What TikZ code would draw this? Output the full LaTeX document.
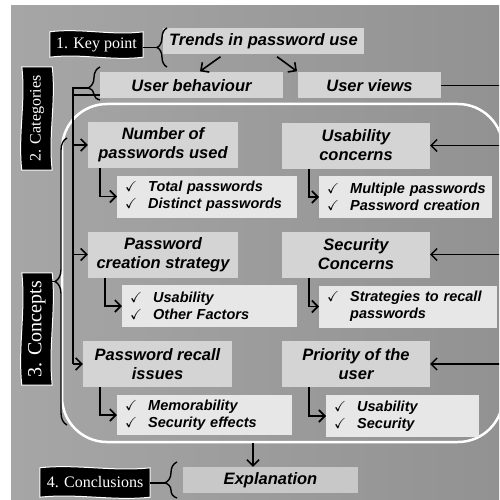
\documentclass[tikz,border=0pt]{standalone}
\usepackage{amssymb}
\usepackage{fontspec}
\setsansfont{Liberation Sans}
\newfontfamily\flagfont{Liberation Serif}
\usetikzlibrary{calc,arrows.meta,decorations.pathreplacing}

\definecolor{bgleft}{RGB}{166,166,166}
\definecolor{bgright}{RGB}{146,146,146}
\definecolor{boxgray}{RGB}{212,212,212}
\definecolor{listgray}{RGB}{231,231,231}
\definecolor{explgray}{RGB}{200,200,200}

\pgfdeclarelayer{back}
\pgfdeclarelayer{flags}
\pgfsetlayers{back,flags,main}

\newcommand{\chk}[1]{\mbox{\makebox[23pt][l]{$\checkmark$}#1}}
\newcommand{\wavyflag}[1]{%
  \fill[black,draw=white,line width=1pt] (#1.north west)
    .. controls ($(#1.north west)!0.33!(#1.north east)!4pt!90:(#1.north east)$)
    and ($(#1.north west)!0.66!(#1.north east)!-4pt!90:(#1.north east)$) .. (#1.north east)
    -- (#1.south east)
    .. controls ($(#1.south east)!0.33!(#1.south west)!4pt!90:(#1.south west)$)
    and ($(#1.south east)!0.66!(#1.south west)!-4pt!90:(#1.south west)$) .. (#1.south west)
    -- cycle;}

\begin{document}
\begin{tikzpicture}[x=1pt,y=-1pt,
    mainbox/.style={fill=boxgray, minimum height=46pt, align=center,
      font=\fontsize{16.5}{19}\selectfont\sffamily\bfseries\itshape},
    topbox/.style={mainbox, minimum height=26pt},
    listbox/.style={fill=listgray, anchor=west, align=left, inner xsep=8pt,
      minimum height=42pt, font=\fontsize{14.5}{17}\selectfont\sffamily\bfseries\itshape},
    flag/.style={text=white, inner sep=0pt, font=\flagfont\fontsize{16}{18}\selectfont},
    link/.style={line width=1.6pt},
    arr/.style={link, -{Straight Barb[length=6pt,width=12pt]}},
    cbrace/.style={line width=1.4pt, decorate, decoration={brace, amplitude=#1}},
    cbrace/.default=8pt]
  \useasboundingbox (0,0) rectangle (499,500);
  \begin{pgfonlayer}{back}
    \fill[white] (0,0) rectangle (499,500);
    \shade[left color=bgleft, right color=bgright] (11,6) rectangle (499,500);
  \end{pgfonlayer}
  \begin{scope}
  \clip (0,0) rectangle (499,500);
  \node[draw=white, line width=2.5pt, rounded corners=45pt, minimum width=441pt,
    minimum height=338pt] (ring) at (282.5,273) {};

  % top level
  \node[topbox, minimum width=201pt] (trends) at (263.5,41.5) {Trends in password use};
  \node[topbox, minimum width=183pt] (behav) at (191.5,85.5) {User behaviour};
  \node[topbox, minimum width=143pt] (views) at (369.5,85.5) {User views};

  % concepts
  \node[mainbox, minimum width=150pt] (num) at (163,145) {Number of\\passwords used};
  \node[mainbox, minimum width=150pt] (create) at (163,254.5) {Password\\creation strategy};
  \node[mainbox, minimum width=149pt] (recall) at (157.5,364) {Password recall\\issues};
  \node[mainbox, minimum width=148pt] (usab) at (356,145.5) {Usability\\concerns};
  \node[mainbox, minimum width=148pt] (secur) at (356,254.5) {Security\\Concerns};
  \node[mainbox, minimum width=148pt] (prio) at (356,364) {Priority of the\\user};

  \node[listbox, text width=164pt] (totals) at (117,196.5)
    {\chk{Total passwords}\\\chk{Distinct passwords}};
  \node[listbox, text width=159pt] (factors) at (122,306)
    {\chk{Usability}\\\chk{Other Factors}};
  \node[listbox, text width=159pt, minimum height=40pt] (effects) at (117,415)
    {\chk{Memorability}\\\chk{Security effects}};
  \node[listbox, text width=157pt] (multi) at (319,197)
    {\chk{Multiple passwords}\\\chk{Password creation}};
  \node[listbox, text width=162pt] (recallstrat) at (319,306.5)
    {\chk{Strategies to recall}\\\hspace*{23pt}passwords};
  \node[listbox, text width=137pt] (usesec) at (326,416)
    {\chk{Usability}\\\chk{Security}};

  \node[topbox, fill=explgray, minimum width=175pt] (expl) at (270.5,480) {Explanation};

  % banners
  \node[flag, minimum width=93pt, minimum height=25pt] (kp) at (96.5,44.5) {1. Key point};
  \node[flag, rotate=90, minimum width=103pt, minimum height=30pt] (cat) at (37,118.5) {2. Categories};
  \node[flag, rotate=90, minimum width=112pt, minimum height=30pt,
    font=\flagfont\fontsize{20}{22}\selectfont] (con) at (37,329) {3. Concepts};
  \node[flag, minimum width=110pt, minimum height=29pt] (concl) at (95,482.5) {4. Conclusions};
  \begin{pgfonlayer}{flags}
    \foreach \f in {kp,cat,con,concl} {\wavyflag{\f}}
  \end{pgfonlayer}

  % braces
  \draw[cbrace=10pt] (167,67) -- (167,28);
  \coordinate (kptip) at (157,47.5);
  \draw[link] (kp.east |- kptip) -- (kptip);
  \draw[cbrace=12pt, decoration={aspect=0.36}] (100,100) -- (100,67);
  \coordinate (cattip) at (88,88);
  \draw[cbrace=12pt] (67,425) -- (67,138);
  \coordinate (contip) at (55,281.5);
  \draw[link] (con.south |- contip) -- (contip);
  \draw[cbrace=12pt, decoration={aspect=0.42}] (177,498) -- (177,462);
  \coordinate (concltip) at (165,483);
  \draw[link] (concl.east |- concltip) -- (concltip);

  % connectors
  \draw[arr] ([xshift=-43pt,yshift=-2pt]trends.south) -- ([xshift=8.5pt,yshift=1pt]behav.north);
  \draw[arr] ([xshift=13.5pt,yshift=-2pt]trends.south) -- ([xshift=-72.5pt,yshift=1pt]views.north);

  \coordinate (ltrunk) at (73,88);
  \coordinate (lbh) at ([yshift=-9.5pt]behav.west);
  \draw[link] (cattip) -- (ltrunk) -- (ltrunk |- recall.west);
  \draw[link] (ltrunk |- lbh) -- (lbh);
  \foreach \b in {num,create,recall}
    \draw[arr] (ltrunk |- \b.west) -- (\b.west);

  \coordinate (rtrunk) at (510,0);
  \draw[link] (views.east) -- (rtrunk |- views.east);
  \foreach \b in {usab,secur,prio}
    \draw[arr, line width=1.3pt] (rtrunk |- \b.east) -- (\b.east);

  \draw[arr] ([xshift=12pt]num.south west) |- (totals.west);
  \draw[arr] ([xshift=17pt]create.south west) |- (factors.west);
  \draw[arr] ([xshift=17pt]recall.south west) |- (effects.west);
  \draw[arr] ([xshift=27pt]usab.south west) |- (multi.west);
  \draw[arr] ([xshift=27pt]secur.south west) |- (recallstrat.west);
  \draw[arr] ([xshift=27pt]prio.south west) |- (usesec.west);

  \coordinate (ex) at ([xshift=-17.5pt]expl.north);
  \draw[arr] (ex |- ring.south) -- (ex);
  \end{scope}
\end{tikzpicture}
\end{document}
